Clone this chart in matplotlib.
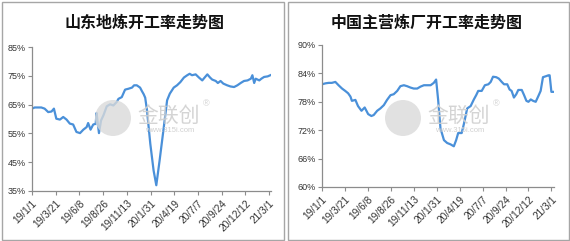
import matplotlib
matplotlib.use("Agg")
import matplotlib.pyplot as plt
from matplotlib.patches import Rectangle, Ellipse
from matplotlib.ticker import FuncFormatter

# 横轴刻度（每 79 天一个）
tick_days = [0, 79, 158, 237, 316, 395, 474, 553, 632, 711, 790]
tick_labels = ["19/1/1", "19/3/21", "19/6/8", "19/8/26", "19/11/13", "20/1/31",
               "20/4/19", "20/7/7", "20/9/24", "20/12/12", "21/3/1"]

# 山东地炼开工率（距 2019-01-01 的天数, %）
sd_days = [0, 9, 20, 31, 42, 54, 65, 73, 81, 93, 104, 115, 126, 137, 148, 160, 171,
           182, 187, 195, 204, 212, 215, 223, 230, 238, 249, 260, 271, 282, 288, 299,
           310, 321, 333, 340, 349, 360, 366, 372, 377, 383, 394, 405, 414, 425, 439,
           450, 459, 472, 483, 494, 506, 517, 525, 533, 545, 556, 567, 575, 584, 593,
           600, 612, 619, 628, 637, 650, 661, 673, 684, 695, 706, 718, 729, 734, 740,
           745, 757, 764, 773, 785, 796]
sd_rate = [63.6, 64.0, 64.0, 64.0, 63.6, 62.4, 62.6, 63.6, 60.1, 59.8, 60.7, 59.8,
           58.4, 58.1, 55.5, 55.1, 56.3, 57.2, 58.6, 56.3, 58.1, 58.3, 62.1, 55.1,
           59.5, 61.3, 64.4, 65.1, 64.7, 65.9, 67.0, 67.6, 70.2, 70.5, 70.9, 71.7,
           71.7, 70.9, 69.7, 68.6, 67.4, 63.0, 51.4, 42.1, 37.0, 45.6, 57.2, 66.5,
           68.8, 70.9, 71.7, 72.8, 74.4, 75.2, 75.7, 75.2, 75.5, 74.4, 73.4, 74.4,
           75.5, 74.4, 73.7, 73.2, 72.5, 73.2, 72.3, 71.7, 71.3, 71.1, 71.7, 72.5,
           73.2, 73.4, 74.0, 75.2, 72.5, 74.0, 73.4, 74.0, 74.6, 74.8, 75.3]

# 中国主营炼厂开工率
zg_days = [0, 12, 23, 34, 46, 57, 69, 80, 90, 98, 103, 115, 124, 136, 147, 159, 170,
           178, 190, 201, 213, 224, 236, 247, 259, 270, 282, 293, 305, 316, 328, 339,
           351, 362, 374, 385, 393, 400, 408, 420, 431, 443, 454, 462, 469, 481, 489,
           500, 512, 523, 531, 538, 550, 561, 573, 581, 589, 600, 609, 619, 627, 638,
           646, 653, 661, 669, 676, 688, 696, 704, 711, 719, 727, 736, 745, 753, 761,
           771, 780, 784, 790, 799]
zg_rate = [81.7, 81.9, 82.0, 82.0, 82.2, 81.5, 80.8, 80.3, 79.8, 79.1, 78.2, 78.4,
           77.1, 76.1, 76.8, 75.4, 75.0, 75.2, 76.1, 76.6, 77.3, 78.4, 79.4, 79.6,
           80.3, 81.3, 81.5, 81.3, 81.0, 80.8, 80.8, 81.2, 81.5, 81.5, 81.5, 82.0,
           82.7, 78.4, 72.4, 69.9, 69.3, 69.0, 68.6, 69.9, 71.4, 71.4, 73.4, 76.6,
           77.1, 78.5, 79.4, 80.3, 80.3, 81.5, 81.7, 82.2, 83.3, 83.2, 82.9, 82.2,
           81.7, 81.7, 80.6, 80.3, 78.9, 79.6, 80.5, 80.5, 79.4, 78.2, 78.0, 78.5,
           78.2, 78.0, 79.2, 80.3, 83.2, 83.4, 83.6, 83.6, 80.1, 80.1]

line_color = "#4A90D9"
axis_color = "#8C8C8C"
cjk = ["Noto Sans CJK SC", "DejaVu Sans"]
plt.rcParams["font.family"] = ["Liberation Sans", "DejaVu Sans"]

fig = plt.figure(figsize=(5.7, 2.41), dpi=100)
W, H = 570.0, 241.0

# 两个面板的灰色边框
for x0, x1 in [(1.5, 284), (288, 569)]:
    fig.patches.append(Rectangle((x0 / W, 1.5 / H), (x1 - x0) / W, (H - 3.5) / H,
                                 transform=fig.transFigure, fill=False,
                                 edgecolor="#A6A6A6", linewidth=1.0))


def draw_panel(rect, days, rate, ylim, yticks, title, title_x, logo_x):
    ax = fig.add_axes(rect)
    ax.plot(days, rate, color=line_color, linewidth=1.6, solid_joinstyle="round")
    ax.set_xlim(0, days[-1])
    ax.set_ylim(*ylim)
    ax.set_yticks(yticks)
    ax.yaxis.set_major_formatter(FuncFormatter(lambda v, p: "%d%%" % v))
    ax.set_xticks(tick_days)
    ax.set_xticklabels(tick_labels, rotation=45, ha="right", rotation_mode="anchor")
    for s in ["top", "right"]:
        ax.spines[s].set_visible(False)
    for s in ["left", "bottom"]:
        ax.spines[s].set_color(axis_color)
        ax.spines[s].set_linewidth(0.9)
    ax.tick_params(axis="both", colors=axis_color, labelcolor="#333333",
                   labelsize=6.5, length=3, width=0.8, direction="out", pad=1.5)
    ax.tick_params(axis="x", labelsize=7.3, pad=2)
    fig.text(title_x / W, 1 - 23 / H, title, family=cjk, fontsize=11.5,
             fontweight="bold", ha="center", va="center", color="#111111")
    # 水印
    fig.patches.append(Ellipse((logo_x / W, 1 - 118 / H), 36 / W, 36 / H,
                               transform=fig.transFigure, facecolor="#DADADA",
                               edgecolor="none", alpha=0.8, zorder=0))
    fig.text((logo_x + 56) / W, 1 - 116 / H, "金联创", family=cjk, fontsize=15,
             color="#D0D0D0", ha="center", va="center", alpha=0.9)
    fig.text((logo_x + 93) / W, 1 - 104 / H, "®", fontsize=6.5, color="#D0D0D0",
             ha="center", va="center")
    fig.text((logo_x + 57) / W, 1 - 130 / H, "www.315i.com", fontsize=5.5,
             color="#D0D0D0", ha="center", va="center")
    return ax


draw_panel([32 / W, 1 - 191 / H, 239 / W, 144 / H], sd_days, sd_rate,
           (35, 85), [35, 45, 55, 65, 75, 85], "山东地炼开工率走势图", 145, 113)
draw_panel([322 / W, 1 - 187 / H, 232 / W, 142 / H], zg_days, zg_rate,
           (60, 90), [60, 66, 72, 78, 84, 90], "中国主营炼厂开工率走势图", 427, 403)

fig.savefig("out.png", dpi=100)
